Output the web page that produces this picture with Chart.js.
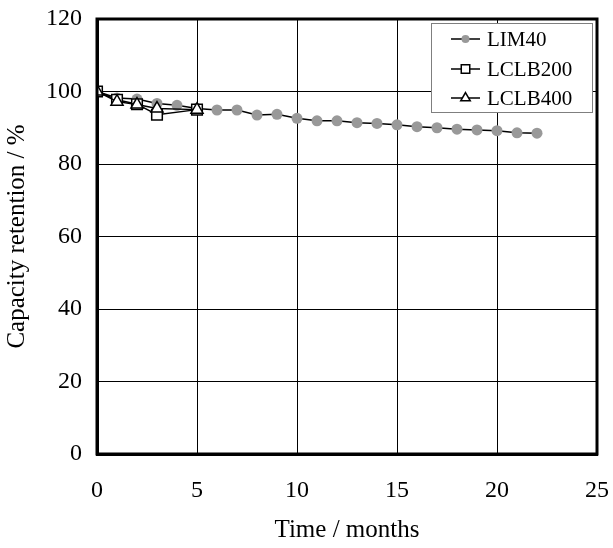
<!DOCTYPE html>
<html>
<head>
<meta charset="utf-8">
<script src="https://cdn.jsdelivr.net/npm/chart.js@4/dist/chart.umd.min.js"></script>
<style>
  html, body { margin: 0; padding: 0; background: #fff; }
</style>
</head>
<body>
<canvas id="retentionChart" width="613" height="548"></canvas>
<script>
const months = [0, 1, 2, 3, 4, 5, 6, 7, 8, 9, 10, 11, 12, 13, 14, 15, 16, 17, 18, 19, 20, 21, 22];
const lim40 = [100, 98.2, 97.9, 96.7, 96.2, 95.3, 94.9, 94.9, 93.5, 93.7, 92.6, 91.9, 91.9, 91.4, 91.2, 90.8, 90.3, 90.0, 89.6, 89.4, 89.2, 88.6, 88.5];

const lclbMonths = [0, 1, 2, 3, 5];
const lclb200 = [100, 97.7, 96.5, 93.6, 95.0];
const lclb400 = [100, 97.2, 96.4, 95.3, 95.0];

const xTicks = [0, 5, 10, 15, 20, 25];
const yTicks = [0, 20, 40, 60, 80, 100, 120];

const serif = '"Liberation Serif", "Times New Roman", serif';

function toPoints(xs, ys) {
  return xs.map((x, i) => ({ x: x, y: ys[i] }));
}

// keep the plot box fixed: no extra room for overhanging tick labels
function noOverhang(scale) {
  scale.paddingLeft = 0;
  scale.paddingRight = 0;
  scale.paddingTop = 0;
  scale.paddingBottom = 0;
}

// thick frame round the plot + boxed legend in the top right corner
const framePlugin = {
  id: "frame",
  afterDatasetsDraw(chart) {
    const { ctx, chartArea: a } = chart;
    ctx.save();
    ctx.strokeStyle = "#000";
    ctx.lineWidth = 3;
    ctx.strokeRect(a.left, a.top, a.right - a.left, a.bottom - a.top);
    ctx.restore();
  },
  afterDraw(chart) {
    const ctx = chart.ctx;
    const box = { x: 431, y: 23, w: 161, h: 89 };
    ctx.save();
    ctx.fillStyle = "#fff";
    ctx.fillRect(box.x, box.y, box.w, box.h);
    ctx.strokeStyle = "#7f7f7f";
    ctx.lineWidth = 1;
    ctx.strokeRect(box.x + 0.5, box.y + 0.5, box.w, box.h);

    const rows = [39, 69, 98];
    chart.data.datasets.forEach((ds, i) => {
      const y = rows[i];
      ctx.strokeStyle = "#000";
      ctx.lineWidth = 1.5;
      ctx.beginPath();
      ctx.moveTo(451, y);
      ctx.lineTo(480, y);
      ctx.stroke();

      ctx.fillStyle = ds.pointBackgroundColor;
      ctx.strokeStyle = ds.pointBorderColor;
      ctx.lineWidth = ds.pointBorderWidth;
      Chart.helpers.drawPoint(ctx, {
        pointStyle: ds.pointStyle,
        radius: ds.pointRadius - 1.5,
        borderWidth: ds.pointBorderWidth,
        rotation: 0
      }, 465.5, y);

      ctx.fillStyle = "#000";
      ctx.font = "21px " + serif;
      ctx.textAlign = "left";
      ctx.textBaseline = "middle";
      ctx.fillText(ds.label, 487, y + 1);
    });
    ctx.restore();
  }
};

const ctx = document.getElementById("retentionChart").getContext("2d");
const retentionChart = new Chart(ctx, {
  type: "line",
  data: {
    datasets: [
      {
        label: "LIM40",
        data: toPoints(months, lim40),
        borderColor: "#000",
        borderWidth: 1.5,
        pointStyle: "circle",
        pointRadius: 5.5,
        pointBackgroundColor: "#999999",
        pointBorderColor: "#999999",
        pointBorderWidth: 0,
        order: 3
      },
      {
        label: "LCLB200",
        data: toPoints(lclbMonths, lclb200),
        borderColor: "#000",
        borderWidth: 1.5,
        pointStyle: "rect",
        pointRadius: 7.5,
        pointBackgroundColor: "#fff",
        pointBorderColor: "#000",
        pointBorderWidth: 1.5,
        order: 2
      },
      {
        label: "LCLB400",
        data: toPoints(lclbMonths, lclb400),
        borderColor: "#000",
        borderWidth: 1.5,
        pointStyle: "triangle",
        pointRadius: 7,
        pointBackgroundColor: "#fff",
        pointBorderColor: "#000",
        pointBorderWidth: 1.5,
        order: 1
      }
    ]
  },
  options: {
    responsive: false,
    animation: false,
    layout: { padding: { left: 0, right: 16, top: 19, bottom: 0 } },
    plugins: {
      legend: { display: false },
      tooltip: { enabled: false }
    },
    scales: {
      x: {
        type: "linear",
        min: 0,
        max: 25,
        afterFit(scale) { scale.height = 94; noOverhang(scale); },
        afterBuildTicks(scale) { scale.ticks = xTicks.map(v => ({ value: v })); },
        grid: { color: "#000", lineWidth: 1, drawTicks: false },
        border: { color: "#000", width: 3 },
        ticks: { color: "#000", padding: 22, font: { family: serif, size: 24 } },
        title: {
          display: true,
          text: "Time / months",
          color: "#000",
          padding: { top: 0, bottom: 3 },
          font: { family: serif, size: 25 }
        }
      },
      y: {
        min: 0,
        max: 120,
        afterFit(scale) { scale.width = 97; noOverhang(scale); },
        afterBuildTicks(scale) { scale.ticks = yTicks.map(v => ({ value: v })); },
        grid: { color: "#000", lineWidth: 1, drawTicks: false },
        border: { color: "#000", width: 3 },
        ticks: { color: "#000", padding: 15, font: { family: serif, size: 24 } },
        title: {
          display: true,
          text: "Capacity retention / %",
          color: "#000",
          padding: { top: 2, bottom: 0 },
          font: { family: serif, size: 25 }
        }
      }
    }
  },
  plugins: [framePlugin]
});
</script>
</body>
</html>
